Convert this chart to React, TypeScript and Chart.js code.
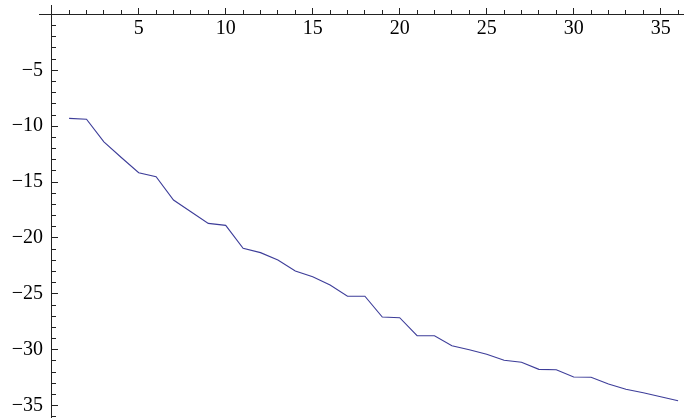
import React, { useEffect, useRef } from "react";
import { Chart, registerables } from "chart.js";

Chart.register(...registerables);

const xValues: number[] = [
  1, 2, 3, 4, 5, 6, 7, 8, 9, 10, 11, 12, 13, 14, 15, 16, 17, 18,
  19, 20, 21, 22, 23, 24, 25, 26, 27, 28, 29, 30, 31, 32, 33, 34, 35, 36,
];
const yValues: number[] = [
  -9.3, -9.38, -11.4, -12.8, -14.16, -14.52, -16.6, -17.65, -18.69, -18.87,
  -20.92, -21.31, -21.97, -22.95, -23.46, -24.2, -25.21, -25.21,
  -27.07, -27.13, -28.74, -28.74, -29.63, -30.0, -30.4, -30.94,
  -31.12, -31.75, -31.78, -32.43, -32.46, -33.06, -33.53, -33.84, -34.2, -34.55,
];

const X_MIN = -0.73;
const X_MAX = 36.34;
const Y_MIN = -36.1;
const Y_MAX = 0.84;
const MAJOR_STEP = 5;
const MINOR_STEP = 1;

const LINE_COLOR = "#3d3d99";
const AXIS_COLOR = "#222222";
const FONT = { family: "Liberation Serif", size: 20 };

const fmt = (v: number) => (v === 0 ? "" : String(v).replace("-", "\u2212"));
const dropZero = (s: any) => {
  s.ticks = s.ticks.filter((t: any) => t.value !== 0);
};
const fitBox = (w: number | null, h: number | null) => (s: any) => {
  if (w !== null) s.width = w;
  if (h !== null) s.height = h;
  s.paddingTop = 0;
  s.paddingBottom = 0;
  s.paddingLeft = 0;
  s.paddingRight = 0;
};

// widen the label box of the left label scale so labels are not clipped at the chart edge
const labelBoxPlugin = {
  id: "labelBox",
  afterLayout(chart: any) {
    const s = chart.scales.yl;
    if (s) s.right = s.left + 48;
  },
};

export default function App() {
  const ref = useRef<HTMLCanvasElement | null>(null);

  useEffect(() => {
    if (!ref.current) return;
    const data = xValues.map((x, i) => ({ x, y: yValues[i] }));
    const chart = new Chart(ref.current, {
      type: "line",
      data: {
        datasets: [
          {
            data,
            xAxisID: "x",
            yAxisID: "y",
            borderColor: LINE_COLOR,
            borderWidth: 1.1,
            pointRadius: 0,
            tension: 0,
            fill: false,
          },
        ],
      },
      plugins: [labelBoxPlugin],
      options: {
        animation: false,
        responsive: false,
        devicePixelRatio: 1,
        layout: { padding: { top: 5, left: 0, right: 0, bottom: 0 }, autoPadding: false },
        plugins: { legend: { display: false }, tooltip: { enabled: false } },
        scales: {
          x: {
            type: "linear",
            position: { y: 0 },
            min: X_MIN,
            max: X_MAX,
            grid: { drawOnChartArea: false, drawTicks: true, tickLength: -7, tickColor: AXIS_COLOR, color: AXIS_COLOR },
            border: { display: true, color: AXIS_COLOR, width: 1 },
            ticks: {
              stepSize: MAJOR_STEP,
              includeBounds: false,
              autoSkip: false,
              maxRotation: 0,
              padding: 9,
              color: "#000",
              font: FONT,
              callback: (v: any) => fmt(Number(v)),
            },
            afterBuildTicks: dropZero,
            afterFit: fitBox(null, 0),
          },
          xm: {
            type: "linear",
            axis: "x",
            position: { y: 0 },
            min: X_MIN,
            max: X_MAX,
            grid: { drawOnChartArea: false, drawTicks: true, tickLength: -4, tickColor: AXIS_COLOR, color: AXIS_COLOR },
            border: { display: false },
            ticks: { display: false, stepSize: MINOR_STEP, includeBounds: false, autoSkip: false, maxTicksLimit: 200 },
            afterFit: fitBox(null, 0),
          },
          y: {
            type: "linear",
            position: { x: 0 },
            min: Y_MIN,
            max: Y_MAX,
            grid: { drawOnChartArea: false, drawTicks: true, tickLength: -7, tickColor: AXIS_COLOR, color: AXIS_COLOR },
            border: { display: true, color: AXIS_COLOR, width: 1 },
            ticks: { display: false, stepSize: MAJOR_STEP, includeBounds: false, autoSkip: false },
            afterFit: fitBox(0, null),
          },
          ym: {
            type: "linear",
            axis: "y",
            position: { x: 0 },
            min: Y_MIN,
            max: Y_MAX,
            grid: { drawOnChartArea: false, drawTicks: true, tickLength: -4, tickColor: AXIS_COLOR, color: AXIS_COLOR },
            border: { display: false },
            ticks: { display: false, stepSize: MINOR_STEP, includeBounds: false, autoSkip: false, maxTicksLimit: 200 },
            afterFit: fitBox(0, null),
          },
          yl: {
            type: "linear",
            axis: "y",
            position: "left",
            min: Y_MIN,
            max: Y_MAX,
            grid: { display: false, drawTicks: false },
            border: { display: false },
            ticks: {
              stepSize: MAJOR_STEP,
              includeBounds: false,
              autoSkip: false,
              padding: 5,
              color: "#000",
              font: FONT,
              callback: (v: any) => fmt(Number(v)),
            },
            afterBuildTicks: dropZero,
            afterFit: fitBox(39, null),
          },
        },
      } as any,
    });
    return () => chart.destroy();
  }, []);

  return (
    <div style={{ position: "absolute", left: 0, top: 0, width: 684, height: 418, background: "#fff" }}>
      <canvas ref={ref} width={684} height={418} style={{ width: 684, height: 418, display: "block" }} />
    </div>
  );
}
